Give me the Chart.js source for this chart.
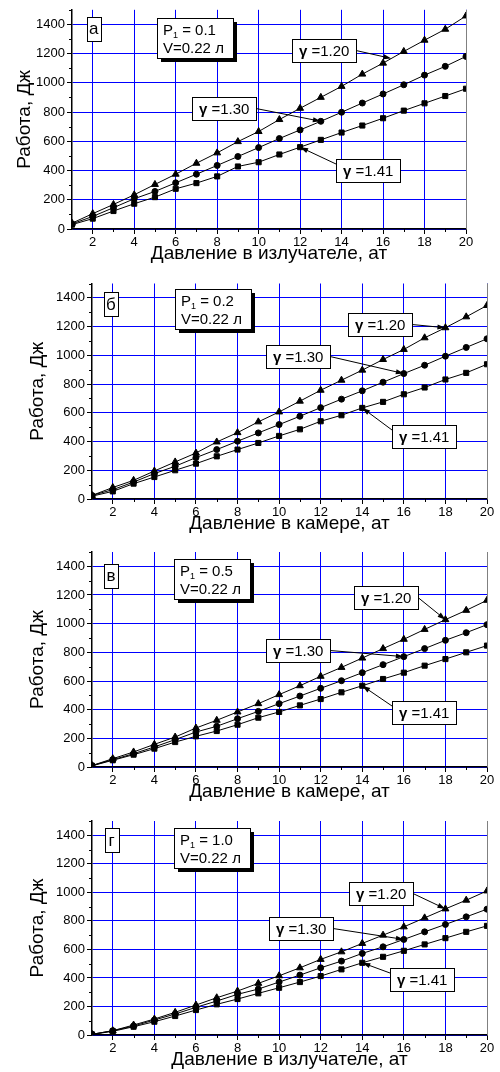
<!DOCTYPE html>
<html>
<head>
<meta charset="utf-8">
<script src="https://cdn.jsdelivr.net/npm/chart.js@4.4.0/dist/chart.umd.min.js"></script>
<style>
html, body { margin: 0; padding: 0; background: #fff; }
body { width: 500px; height: 1072px; position: relative; overflow: hidden; }
canvas { position: absolute; left: 0; }
</style>
</head>
<body>
<canvas id="c1"></canvas>
<canvas id="c2"></canvas>
<canvas id="c3"></canvas>
<canvas id="c4"></canvas>
<script>
"use strict";

/* ===== DATA ===== */
const pressure = [1, 2, 3, 4, 5, 6, 7, 8, 9, 10, 11, 12, 13, 14, 15, 16, 17, 18, 19, 20];
const xTicks = [2, 4, 6, 8, 10, 12, 14, 16, 18, 20];
const xMinor = [3, 5, 7, 9, 11, 13, 15, 17, 19];
const yTicks = [0, 200, 400, 600, 800, 1000, 1200, 1400];
const yMinor = [100, 300, 500, 700, 900, 1100, 1300, 1500];

const gammaLabels = ["1.20", "1.30", "1.41"];
const panelLetters = ["а", "б", "в", "г"];
const p1Labels = ["0.1", "0.2", "0.5", "1.0"];
const volumeLabel = "V=0.22 л";
const yTitle = "Работа, Дж";
const xTitles = ["Давление в излучателе, ат", "Давление в камере, ат", "Давление в камере, ат", "Давление в излучателе, ат"];

// а) P1 = 0.1
const workA120 = [40, 105, 168, 234, 305, 375, 450, 521, 598, 667, 749, 826, 901, 976, 1060, 1135, 1215, 1292, 1367, 1458];
const workA130 = [35, 86, 146, 207, 257, 316, 375, 435, 496, 557, 619, 678, 737, 799, 862, 924, 987, 1053, 1113, 1181];
const workA141 = [30, 71, 123, 173, 218, 275, 314, 360, 428, 457, 510, 560, 610, 660, 708, 758, 810, 860, 910, 960];
// б) P1 = 0.2
const workB120 = [25, 80, 130, 195, 258, 320, 397, 462, 537, 606, 681, 757, 827, 897, 971, 1041, 1122, 1192, 1268, 1347];
const workB130 = [25, 65, 118, 177, 228, 288, 344, 402, 460, 518, 576, 636, 695, 753, 813, 873, 931, 994, 1055, 1115];
const workB141 = [20, 53, 107, 153, 200, 246, 297, 344, 390, 439, 485, 541, 583, 634, 676, 729, 776, 832, 878, 938];
// в) P1 = 0.5
const workC120 = [10, 58, 105, 158, 209, 272, 326, 384, 442, 505, 567, 633, 695, 760, 826, 891, 960, 1028, 1093, 1163];
const workC130 = [10, 51, 93, 140, 191, 244, 284, 337, 388, 442, 495, 549, 602, 658, 714, 770, 826, 884, 937, 993];
const workC141 = [8, 47, 86, 128, 174, 214, 251, 295, 344, 384, 430, 474, 521, 567, 614, 658, 707, 753, 800, 847];
// г) P1 = 1.0
const workD120 = [5, 30, 70, 112, 159, 210, 261, 308, 362, 415, 471, 530, 583, 642, 700, 758, 821, 884, 945, 1010];
const workD130 = [5, 30, 63, 105, 147, 194, 238, 285, 322, 371, 420, 471, 518, 572, 618, 670, 723, 775, 828, 882];
const workD141 = [4, 26, 58, 93, 133, 175, 215, 252, 292, 331, 371, 413, 460, 506, 548, 590, 635, 679, 723, 765];

/* ===== LAYOUT (pixels / placement of labels) ===== */
const panels = [
    { id: "c1", series: [workA120, workA130, workA141], top: 0, height: 265, left: 72, right: 466, padTop: 9, xH: 36, yTitlePad: 13,
      letterAt: [2.05, 1370], boxAt: [6.93, 1305],
      gamma: [{ at: [13.13, 1220], side: "right", to: 16.4 }, { at: [8.35, 825], side: "right", to: 13 }, { at: [15.27, 399], side: "left", to: 12 }] },
    { id: "c2", series: [workB120, workB130, workB141], top: 270, height: 265, left: 92, right: 487, padTop: 13.5, xH: 36, yTitlePad: 26,
      letterAt: [1.91, 1354], boxAt: [6.8, 1322],
      gamma: [{ at: [14.83, 1218], side: "right", to: 18 }, { at: [10.91, 991], side: "right", to: 16 }, { at: [16.99, 438], side: "left", to: 14 }] },
    { id: "c3", series: [workC120, workC130, workC141], top: 540, height: 263, left: 92, right: 487, padTop: 12, xH: 36, yTitlePad: 26,
      letterAt: [1.91, 1336], boxAt: [6.75, 1312],
      gamma: [{ at: [15.14, 1183], side: "right", to: 18 }, { at: [10.91, 813], side: "right", to: 16 }, { at: [16.95, 380], side: "left", to: 14 }] },
    { id: "c4", series: [workD120, workD130, workD141], top: 806, height: 265, left: 92, right: 487, padTop: 15, xH: 36, yTitlePad: 26,
      letterAt: [1.94, 1367], boxAt: [6.77, 1314],
      gamma: [{ at: [14.88, 994], side: "right", to: 18 }, { at: [11.03, 750], side: "right", to: 16 }, { at: [16.88, 389], side: "left", to: 14 }] }
];

const markers = [
    { style: "triangle", r: 4 },
    { style: "circle", r: 3 },
    { style: "rect", r: 3.6 }
];

const FONT = "'Liberation Sans', Arial, sans-serif";

// y value on a series at any x (linear between measured points)
function valueAt(arr, xv) {
    const i = Math.max(0, Math.min(arr.length - 2, Math.floor(xv) - 1));
    const t = xv - pressure[i];
    return arr[i] + (arr[i + 1] - arr[i]) * t;
}

function arrow(ctx, x0, y0, x1, y1) {
    const ang = Math.atan2(y1 - y0, x1 - x0);
    const len = 8, half = 2.6;
    ctx.beginPath();
    ctx.moveTo(x0, y0);
    ctx.lineTo(x1 - Math.cos(ang) * len * 0.8, y1 - Math.sin(ang) * len * 0.8);
    ctx.stroke();
    ctx.beginPath();
    ctx.moveTo(x1, y1);
    ctx.lineTo(x1 - Math.cos(ang) * len + Math.sin(ang) * half, y1 - Math.sin(ang) * len - Math.cos(ang) * half);
    ctx.lineTo(x1 - Math.cos(ang) * len - Math.sin(ang) * half, y1 - Math.sin(ang) * len + Math.cos(ang) * half);
    ctx.closePath();
    ctx.fill();
}

/* ===== PLUGIN: minor ticks, frame, labels ===== */
const extras = {
    id: "extras",
    afterDraw(chart, args, opts) {
        const { ctx, chartArea: a, scales: { x, y } } = chart;
        const p = opts.panel;
        ctx.save();
        ctx.strokeStyle = "#000";
        ctx.fillStyle = "#000";
        ctx.lineWidth = 1;

        // minor ticks
        ctx.beginPath();
        yMinor.forEach(v => {
            const py = Math.round(y.getPixelForValue(v)) + 0.5;
            ctx.moveTo(a.left - 3, py);
            ctx.lineTo(a.left, py);
        });
        xMinor.forEach(v => {
            const px = Math.round(x.getPixelForValue(v)) + 0.5;
            ctx.moveTo(px, a.bottom);
            ctx.lineTo(px, a.bottom + 3);
        });
        ctx.stroke();

        // right frame
        ctx.strokeStyle = "#808080";
        ctx.beginPath();
        ctx.moveTo(Math.round(a.right) + 0.5, a.top);
        ctx.lineTo(Math.round(a.right) + 0.5, a.bottom);
        ctx.stroke();
        ctx.strokeStyle = "#000";

        // panel letter box
        const lx = x.getPixelForValue(p.letterAt[0]);
        const ly = y.getPixelForValue(p.letterAt[1]);
        ctx.fillStyle = "#fff";
        ctx.fillRect(Math.round(lx - 7), Math.round(ly - 12), 14, 24);
        ctx.strokeRect(Math.round(lx - 7) + 0.5, Math.round(ly - 12) + 0.5, 14, 24);
        ctx.fillStyle = "#000";
        ctx.font = "17px " + FONT;
        ctx.textAlign = "center";
        ctx.textBaseline = "middle";
        ctx.fillText(panelLetters[opts.index], lx, ly + 1);

        // P1 / V box with shadow
        const bx = x.getPixelForValue(p.boxAt[0]);
        const by = y.getPixelForValue(p.boxAt[1]);
        const bw = 76, bh = 40;
        const bl = Math.round(bx - bw / 2), bt = Math.round(by - bh / 2);
        ctx.fillRect(bl + 4, bt + 4, bw, bh);
        ctx.fillStyle = "#fff";
        ctx.fillRect(bl, bt, bw, bh);
        ctx.strokeRect(bl + 0.5, bt + 0.5, bw, bh);
        ctx.fillStyle = "#000";
        ctx.textAlign = "left";
        ctx.textBaseline = "alphabetic";
        ctx.font = "15px " + FONT;
        let tx = bl + 6;
        ctx.fillText("P", tx, bt + 17);
        tx += ctx.measureText("P").width;
        ctx.font = "9px " + FONT;
        ctx.fillText("1", tx, bt + 20);
        tx += ctx.measureText("1").width;
        ctx.font = "15px " + FONT;
        ctx.fillText(" = " + p1Labels[opts.index], tx, bt + 17);
        ctx.fillText(volumeLabel, bl + 6, bt + 35);

        // gamma labels with arrows
        p.gamma.forEach((g, i) => {
            const cx = x.getPixelForValue(g.at[0]);
            const cy = y.getPixelForValue(g.at[1]);
            ctx.font = "bold 15px " + FONT;
            const gw = ctx.measureText("γ").width;
            ctx.font = "15px " + FONT;
            const rest = " =" + gammaLabels[i];
            const rw = ctx.measureText(rest).width;
            const w = Math.round(gw + rw + 14), h = 23;
            const l = Math.round(cx - w / 2), t = Math.round(cy - h / 2);
            // arrow first
            const tgtX = x.getPixelForValue(g.to);
            const tgtY = y.getPixelForValue(valueAt(p.series[i], g.to));
            const sx = g.side === "right" ? l + w : l;
            const sy = g.side === "right" ? t + h / 2 : t + 5;
            ctx.lineWidth = 1;
            arrow(ctx, sx, sy, tgtX, tgtY);
            ctx.fillStyle = "#fff";
            ctx.fillRect(l, t, w, h);
            ctx.strokeRect(l + 0.5, t + 0.5, w, h);
            ctx.fillStyle = "#000";
            ctx.textBaseline = "middle";
            ctx.font = "bold 15px " + FONT;
            ctx.fillText("γ", l + 7, t + h / 2 + 1);
            ctx.font = "15px " + FONT;
            ctx.fillText(rest, l + 7 + gw, t + h / 2 + 1);
        });
        ctx.restore();
    }
};

/* ===== RENDER ===== */
function criar(p, index) {
    const canvas = document.getElementById(p.id);
    canvas.width = 500;
    canvas.height = p.height;
    canvas.style.top = p.top + "px";

    const datasets = p.series.map((arr, i) => ({
        data: pressure.map((xv, k) => ({ x: xv, y: arr[k] })),
        borderColor: "#000",
        borderWidth: 1,
        backgroundColor: "#000",
        pointStyle: markers[i].style,
        pointRadius: markers[i].r,
        pointBackgroundColor: "#000",
        pointBorderColor: "#000",
        pointBorderWidth: 1,
        tension: 0
    }));

    return new Chart(canvas, {
        type: "line",
        data: { datasets },
        options: {
            responsive: false,
            animation: false,
            events: [],
            layout: { padding: { top: p.padTop, right: 500 - p.right, left: 0, bottom: 0 } },
            plugins: {
                legend: { display: false },
                tooltip: { enabled: false },
                extras: { panel: p, index }
            },
            scales: {
                x: {
                    type: "linear",
                    min: 1,
                    max: 20,
                    afterBuildTicks: s => { s.ticks = xTicks.map(v => ({ value: v })); },
                    afterFit: s => { s.height = p.xH; },
                    grid: { color: "#0000ff", lineWidth: 1, tickColor: "#000", tickLength: 5 },
                    border: { color: "#000", width: 1.5 },
                    ticks: { color: "#000", font: { family: FONT, size: 13 }, padding: 1, maxRotation: 0, autoSkip: false, callback: v => String(v) },
                    title: { display: true, text: xTitles[index], color: "#000", font: { family: FONT, size: 19 }, padding: { top: 0, bottom: 0 } }
                },
                y: {
                    type: "linear",
                    min: 0,
                    max: 1500,
                    afterBuildTicks: s => { s.ticks = yTicks.map(v => ({ value: v })); },
                    afterFit: s => { s.width = p.left; },
                    grid: { color: "#0000ff", lineWidth: 1, tickColor: "#000", tickLength: 5 },
                    border: { color: "#000", width: 1.5 },
                    ticks: { color: "#000", font: { family: FONT, size: 13 }, padding: 2, autoSkip: false, callback: v => String(v) },
                    title: { display: true, text: yTitle, color: "#000", font: { family: FONT, size: 19 }, padding: { top: p.yTitlePad, bottom: 0 } }
                }
            }
        },
        plugins: [extras]
    });
}

panels.forEach((p, i) => criar(p, i));
</script>
</body>
</html>
